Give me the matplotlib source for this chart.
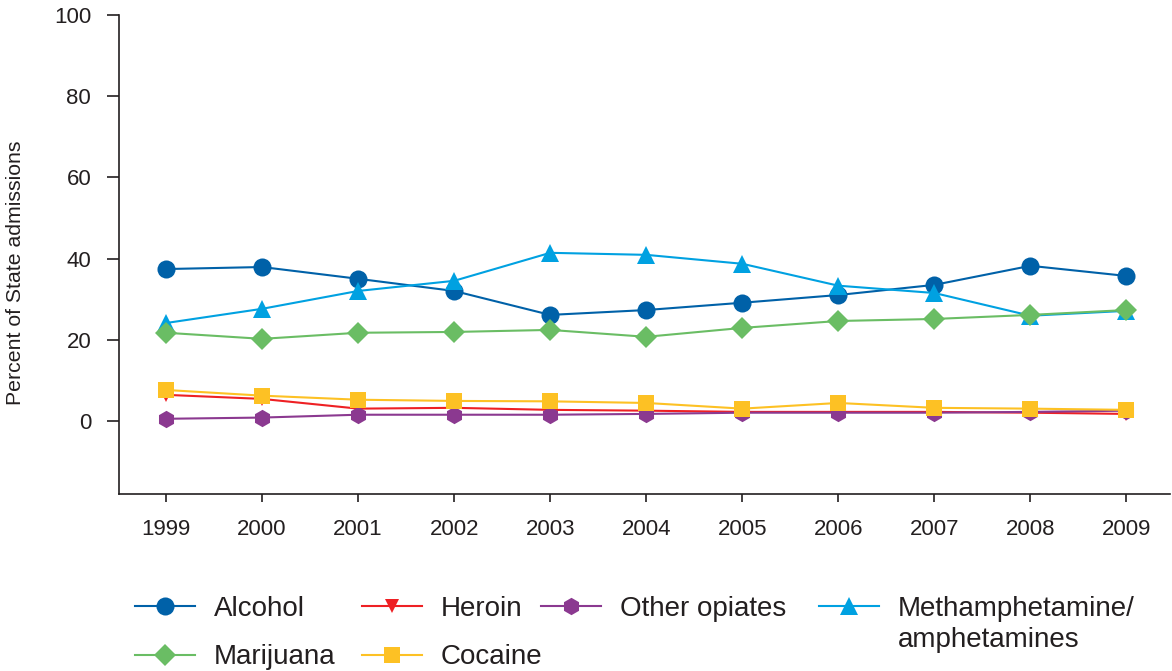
import matplotlib.pyplot as plt
from matplotlib.legend import Legend

plt.rcParams["font.family"] = ["Liberation Sans", "DejaVu Sans"]

years = [1999, 2000, 2001, 2002, 2003, 2004, 2005, 2006, 2007, 2008, 2009]

alcohol = [37.4, 37.9, 35.0, 32.0, 26.1, 27.3, 29.1, 31.0, 33.5, 38.2, 35.7]
heroin = [6.4, 5.4, 3.0, 3.2, 2.7, 2.5, 2.2, 2.2, 2.2, 2.0, 1.7]
other_opiates = [0.5, 0.8, 1.5, 1.5, 1.5, 1.7, 2.0, 2.0, 2.0, 2.2, 2.5]
meth = [24.1, 27.6, 32.0, 34.5, 41.4, 40.9, 38.7, 33.3, 31.5, 25.9, 27.1]
marijuana = [21.7, 20.2, 21.7, 21.9, 22.4, 20.7, 22.9, 24.6, 25.1, 26.1, 27.3]
cocaine = [7.6, 6.2, 5.2, 4.9, 4.8, 4.4, 3.0, 4.4, 3.2, 3.0, 2.7]

ink = "#231f20"
W, H = 1172, 671

fig = plt.figure(figsize=(W / 100, H / 100), dpi=100)
ax = fig.add_axes([0.1015, 0.264, 0.8965, 0.7136])

# draw order matters for overlapping markers
series = [
    ("Alcohol", alcohol, "#0061a8", "o", 13),
    ("Heroin", heroin, "#ee2024", "v", 10.5),
    ("Other opiates", other_opiates, "#8b3990", "h", 12.5),
    ("Methamphetamine/", meth, "#00a1e1", "^", 13),
    ("Marijuana", marijuana, "#6abd64", "D", 11),
    ("Cocaine", cocaine, "#fdc124", "s", 11.5),
]

lines = {}
for name, vals, col, mk, ms in series:
    (ln,) = ax.plot(years, vals, color=col, lw=1.5, marker=mk, ms=ms,
                    markeredgewidth=0, label=name)
    lines[name] = ln

ax.set_xlim(1998.51, 2009.45)
ax.set_ylim(-18, 100)
ax.set_xticks(years)
ax.set_yticks([0, 20, 40, 60, 80, 100])

for s in ["top", "right"]:
    ax.spines[s].set_visible(False)
for s in ["left", "bottom"]:
    ax.spines[s].set_color(ink)
    ax.spines[s].set_linewidth(1.2)

ax.tick_params(axis="y", direction="out", length=9, width=1.2, pad=11,
               labelsize=16, colors=ink)
ax.tick_params(axis="x", direction="out", length=6, width=1.2, pad=12,
               labelsize=16, colors=ink)

fig.text(0.013, 1 - 273 / H, "Percent of State admissions", rotation=90,
         ha="center", va="center", fontsize=15.3, color=ink)

# legend columns placed one by one (x of the handle start, pixels)
columns = [
    (["Alcohol", "Marijuana"], 135),
    (["Heroin", "Cocaine"], 362),
    (["Other opiates"], 541),
    (["Methamphetamine/"], 819),
]
legs = []
for names, xpix in columns:
    leg = Legend(fig, [lines[k] for k in names], names, loc="upper left",
                 bbox_to_anchor=(xpix / W, 1 - 596 / H),
                 bbox_transform=fig.transFigure, frameon=False, fontsize=20,
                 handlelength=2.15, handletextpad=0.68, labelspacing=0.8,
                 borderaxespad=0, borderpad=0)
    for t in leg.get_texts():
        t.set_color(ink)
    fig.add_artist(leg)
    legs.append(leg)

# second line of the methamphetamine label
fig.canvas.draw()
bb = legs[-1].get_texts()[0].get_window_extent()
fig.text(bb.x0 / W, (bb.y0 - 31) / H, "amphetamines", fontsize=20,
         color=ink, ha="left", va="bottom")

fig.savefig("out.png", dpi=100)
